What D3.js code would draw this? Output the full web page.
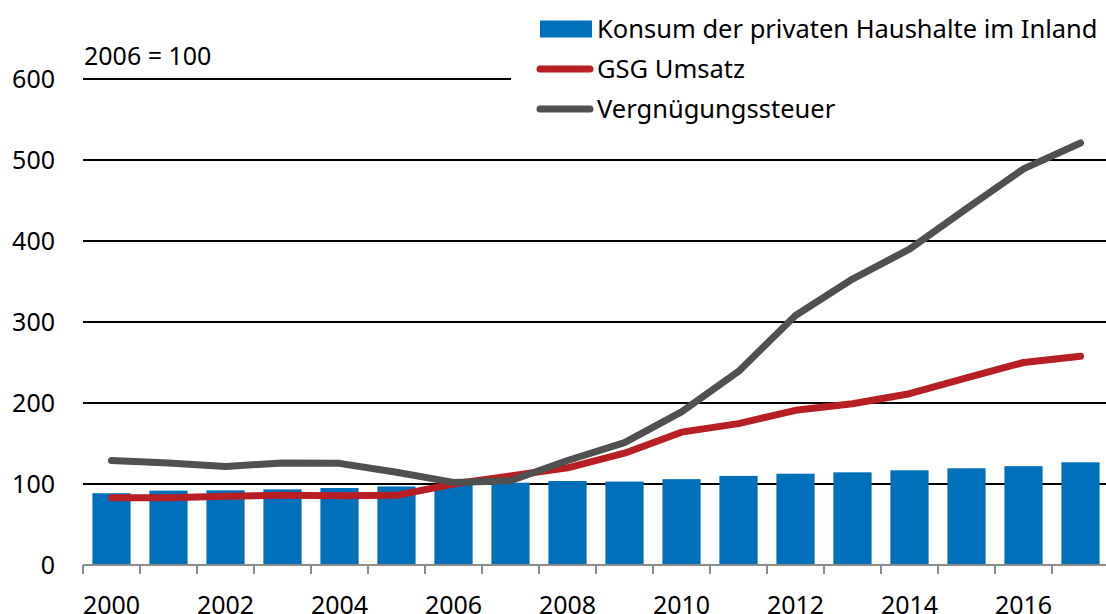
<!DOCTYPE html>
<html>
<head>
<meta charset="utf-8">
<script src="https://cdn.jsdelivr.net/npm/d3@7"></script>
<style>
  body { margin: 0; background: #fff; }
  svg { font-family: "Noto Sans", "Open Sans", sans-serif; }
</style>
</head>
<body>
<svg id="chart" width="1106" height="614"></svg>
<script>
// data, index 2006 = 100
const years = d3.range(2000, 2018);
const konsum = [88.6, 91.8, 92.2, 93.4, 95, 97, 100, 101.6, 103.7, 103, 106, 110, 112.7, 114.4, 116.9, 119.4, 122, 126.8];
const gsgUmsatz = [83, 83, 85, 86, 85.5, 86, 100, 110, 120, 138, 164, 174.5, 191, 199, 211.5, 231, 250, 257.6];
const vergnuegung = [129, 126, 121.7, 126, 125.5, 114.5, 102, 104, 129, 151, 189, 239, 308, 353, 390, 440, 489, 521];
const yTicks = [0, 100, 200, 300, 400, 500, 600];
const xLabels = [2000, 2002, 2004, 2006, 2008, 2010, 2012, 2014, 2016];

const legendItems = [
  {name: "Konsum der privaten Haushalte im Inland", type: "bar", color: "#0070ba"},
  {name: "GSG Umsatz", type: "line", color: "#b81f24"},
  {name: "Vergnügungssteuer", type: "line", color: "#505050"}
];

const svg = d3.select("#chart");
const margin = {top: 79, left: 83, right: 1109, bottom: 565};

const x = d3.scaleBand()
  .domain(years)
  .range([margin.left, margin.right])
  .paddingInner(0.33)
  .paddingOuter(0.165);

const xb = d3.scaleBand().domain(years).range([margin.left, margin.right]);

const y = d3.scaleLinear()
  .domain([0, 600])
  .range([margin.bottom, margin.top]);

// gridlines
svg.append("g")
  .selectAll("line")
  .data(yTicks.filter(d => d > 0))
  .join("line")
  .attr("x1", margin.left)
  .attr("x2", d => d === 600 ? 511 : 1106)
  .attr("y1", d => y(d))
  .attr("y2", d => y(d))
  .attr("stroke", "#000")
  .attr("stroke-width", 2);

// y labels
svg.append("g")
  .selectAll("text")
  .data(yTicks)
  .join("text")
  .attr("x", 55)
  .attr("y", d => y(d) + 9)
  .attr("text-anchor", "end")
  .attr("font-size", 25)
  .attr("fill", "#000")
  .text(d => d);

// bars
svg.append("g")
  .selectAll("rect")
  .data(years)
  .join("rect")
  .attr("x", d => x(d))
  .attr("width", x.bandwidth())
  .attr("y", (d, i) => y(konsum[i]))
  .attr("height", (d, i) => y(0) - y(konsum[i]))
  .attr("fill", "#0070ba");

// x axis with ticks between categories
const axis = svg.append("g");
axis.append("line")
  .attr("x1", margin.left).attr("x2", 1106)
  .attr("y1", y(0)).attr("y2", y(0))
  .attr("stroke", "#8c8c8c").attr("stroke-width", 2);
axis.selectAll("line.tick")
  .data(years)
  .join("line")
  .attr("class", "tick")
  .attr("x1", d => xb(d)).attr("x2", d => xb(d))
  .attr("y1", y(0)).attr("y2", y(0) + 9)
  .attr("stroke", "#8c8c8c").attr("stroke-width", 2);
axis.selectAll("text")
  .data(xLabels)
  .join("text")
  .attr("x", d => xb(d) + xb.bandwidth() / 2)
  .attr("y", 614)
  .attr("text-anchor", "middle")
  .attr("font-size", 25)
  .attr("fill", "#000")
  .text(d => d);

// lines
const line = d3.line()
  .x((d, i) => xb(years[i]) + xb.bandwidth() / 2)
  .y(d => y(d));

[[gsgUmsatz, "#b81f24"], [vergnuegung, "#505050"]].forEach(([vals, col]) => {
  svg.append("path")
    .datum(vals)
    .attr("d", line)
    .attr("fill", "none")
    .attr("stroke", col)
    .attr("stroke-width", 7)
    .attr("stroke-linecap", "round")
    .attr("stroke-linejoin", "round");
});

// note
svg.append("text")
  .attr("x", 84).attr("y", 65)
  .attr("font-size", 25)
  .text("2006 = 100");

// legend
const leg = svg.append("g");
legendItems.forEach((d, i) => {
  const cy = 29 + i * 40;
  if (d.type === "bar") {
    leg.append("rect").attr("x", 540).attr("y", cy - 8.5).attr("width", 52).attr("height", 17).attr("fill", d.color);
  } else {
    leg.append("line").attr("x1", 540).attr("x2", 590).attr("y1", cy).attr("y2", cy)
      .attr("stroke", d.color).attr("stroke-width", 7).attr("stroke-linecap", "round");
  }
  leg.append("text")
    .attr("x", 597).attr("y", cy + 9)
    .attr("font-size", 25.5)
    .text(d.name);
});
</script>
</body>
</html>
